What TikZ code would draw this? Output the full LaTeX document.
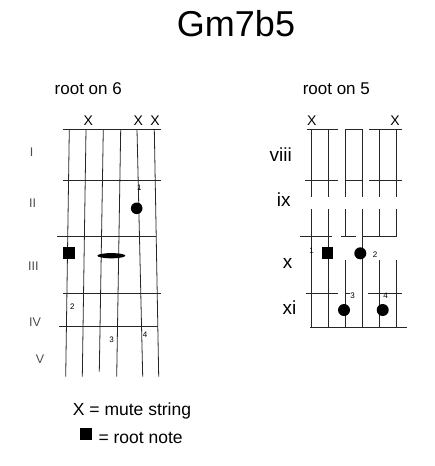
\documentclass[tikz,border=0pt]{standalone}
\usepackage{fontspec}
\setmainfont{Liberation Sans}
\tikzset{
  gline/.style={line width=0.8pt, black!85},
  fing/.style={font=\fontsize{8}{9}\selectfont, inner sep=0pt},
  mute/.style={font=\fontsize{14}{16}\selectfont, inner sep=0pt, anchor=base},
  lnum/.style={font=\fontsize{12.5}{14}\selectfont, inner sep=0pt, anchor=base, black!70},
  rnum/.style={font=\fontsize{19}{22}\selectfont, inner sep=0pt, anchor=base},
  heading/.style={font=\fontsize{17}{20}\selectfont, inner sep=0pt, anchor=base},
  dotmark/.style={fill=black},
}
\begin{document}
\begin{tikzpicture}[x=1pt,y=-1pt]
\useasboundingbox (0,0) rectangle (434,466);
% title
\node[font=\fontsize{36}{40}\selectfont, inner sep=0pt, anchor=base] (title) at (236,36.7) {Gm7b5};
% headings
\node[heading] (h6) at (88.3,94) {root on 6};
\node[heading] (h5) at (336.3,94) {root on 5};

% ===== left diagram =====
\foreach \xt/\xb/\yb in {69.3/65.7/376.7, 86/82.3/376.7, 103.3/99.3/371.7, 120.7/116.7/376.7, 137/142.7/376.7, 154.3/158.7/376.7}
  \draw[gline] (\xt,129.3) -- (\xb,\yb);
\foreach \y/\a/\b in {129.3/63.3/161, 180/63.3/161, 236/57.3/155.7, 293.3/63.3/161, 326.7/59.3/157.7}
  \draw[gline] (\a,\y) -- (\b,\y);
\node[mute] (lx1) at (88.3,125) {X};
\node[mute] (lx2) at (138.3,125) {X};
\node[mute] (lx3) at (155,125) {X};
\node[lnum] (lI) at (31.7,156) {I};
\node[lnum] (lII) at (32.7,207.3) {II};
\node[lnum] (lIII) at (33.3,270) {III};
\node[lnum] (lIV) at (35,326) {IV};
\node[lnum] (lV) at (40,363.3) {V};
\fill[dotmark] (136.7,208.3) circle[radius=5.8pt];
\fill[dotmark] (63,247) rectangle (75,259);
\fill[dotmark] (111.3,255.7) ellipse[x radius=14pt, y radius=2.6pt];
\node[fing] (lf1) at (139.3,187.7) {1};
\node[fing] (lf2) at (72.3,306.7) {2};
\node[fing] (lf3) at (111.7,340) {3};
\node[fing] (lf4) at (145,334.3) {4};

% ===== right diagram =====
\foreach \x in {311.7,328.3,345.7,362.7,379.3,396}
  \draw[gline] (\x,129.3) -- (\x,197.3);
\foreach \x in {311.7,328.3,362.7}
  \draw[gline] (\x,209.3) -- (\x,327.3);
\foreach \x in {345.7,379.3,396}{
  \draw[gline] (\x,209.3) -- (\x,236);
  \draw[gline] (\x,260) -- (\x,327.3);
}
\foreach \y/\a/\b in {129.3/306.7/338.3, 129.3/345/362.7, 129.3/369/402.3,
                      180.3/305/338.3, 180.3/345.7/361.7, 180.3/369/402.3,
                      236/300/331.7, 236/341/355.7, 236/363.3/396.7,
                      293.3/305.7/338.3, 293.3/345.7/350, 293.3/368.3/401.7,
                      327.3/310/406.7}
  \draw[gline] (\a,\y) -- (\b,\y);
\node[mute] (rx1) at (311.7,125) {X};
\node[mute] (rx2) at (395,125) {X};
\node[rnum] (rviii) at (280.8,161.7) {viii};
\node[rnum] (rix) at (283.8,206.7) {ix};
\node[rnum] (rx) at (287.5,268.3) {x};
\node[rnum] (rxi) at (289.5,314) {xi};
\fill[dotmark] (321.5,247.4) rectangle (333,258.9);
\fill[dotmark] (360.3,253.3) circle[radius=6pt];
\fill[dotmark] (344,310) circle[radius=6pt];
\fill[dotmark] (382.7,310) circle[radius=6pt];
\node[fing] (rf1) at (311.7,250.7) {1};
\node[fing] (rf2) at (375,255) {2};
\node[fing] (rf3) at (352.7,295.7) {3};
\node[fing] (rf4) at (385.7,295.7) {4};

% ===== legend =====
\node[font=\fontsize{17.5}{20}\selectfont, inner sep=0pt, anchor=base west] (leg1) at (72.7,415) {X = mute string};
\fill[dotmark] (80,427.7) rectangle (92.3,440);
\node[font=\fontsize{17.5}{20}\selectfont, inner sep=0pt, anchor=base west] (leg2) at (98.3,443.3) {= root note};
\end{tikzpicture}
\end{document}
